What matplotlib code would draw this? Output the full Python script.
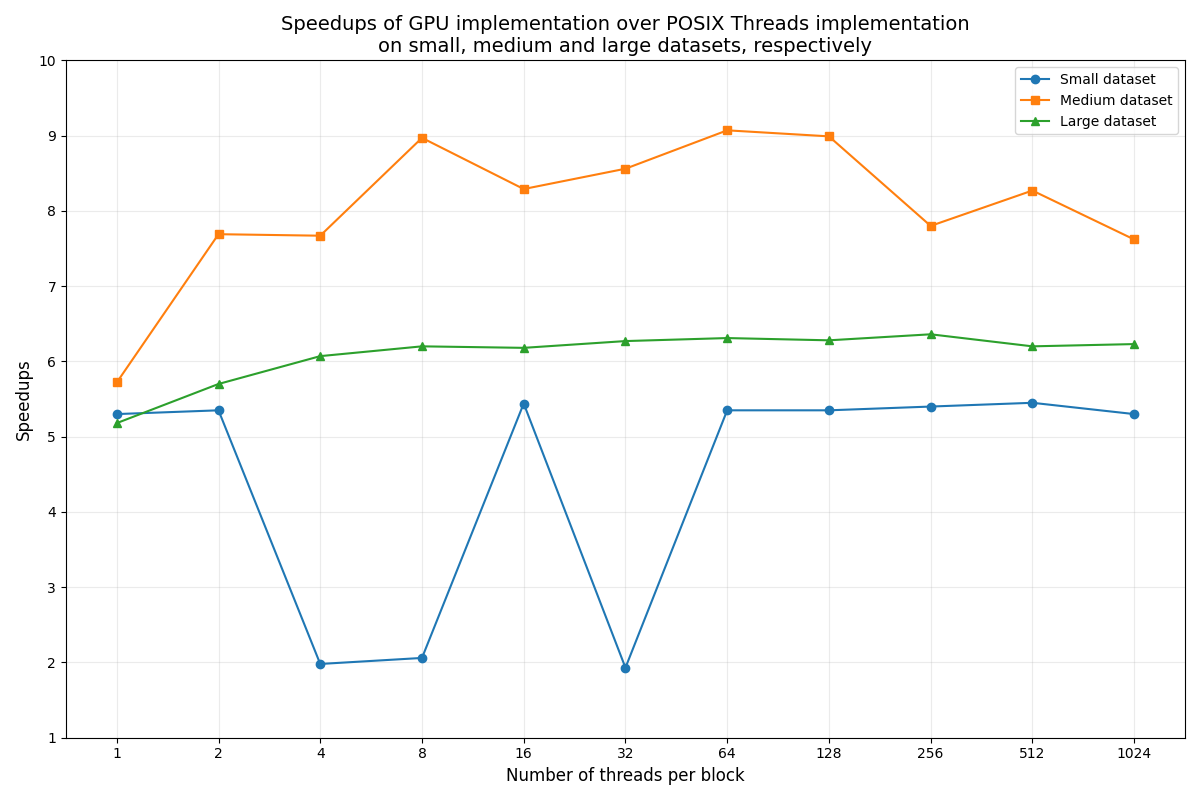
import matplotlib
matplotlib.use("Agg")
import matplotlib.pyplot as plt

threads = [1, 2, 4, 8, 16, 32, 64, 128, 256, 512, 1024]
small = [5.30, 5.35, 1.98, 2.06, 5.44, 1.93, 5.35, 5.35, 5.40, 5.45, 5.30]
medium = [5.72, 7.69, 7.67, 8.97, 8.29, 8.56, 9.07, 8.99, 7.80, 8.27, 7.62]
large = [5.18, 5.70, 6.07, 6.20, 6.18, 6.27, 6.31, 6.28, 6.36, 6.20, 6.23]

fig, ax = plt.subplots(figsize=(12, 8), dpi=100)
ax.plot(threads, small, marker='o', label='Small dataset')
ax.plot(threads, medium, marker='s', label='Medium dataset')
ax.plot(threads, large, marker='^', label='Large dataset')
ax.set_xscale('log', base=2)
ax.set_xticks(threads)
ax.set_xticklabels([str(t) for t in threads])
ax.set_xlim(2 ** -0.5, 2 ** 10.5)
ax.set_ylim(1, 10)
ax.grid(which='both', alpha=0.25)
ax.set_xlabel('Number of threads per block', fontsize=12)
ax.set_ylabel('Speedups', fontsize=12)
ax.set_title('Speedups of GPU implementation over POSIX Threads implementation\n'
             'on small, medium and large datasets, respectively', fontsize=14)
ax.legend(loc='upper right')
fig.tight_layout()
fig.savefig('out.png')
